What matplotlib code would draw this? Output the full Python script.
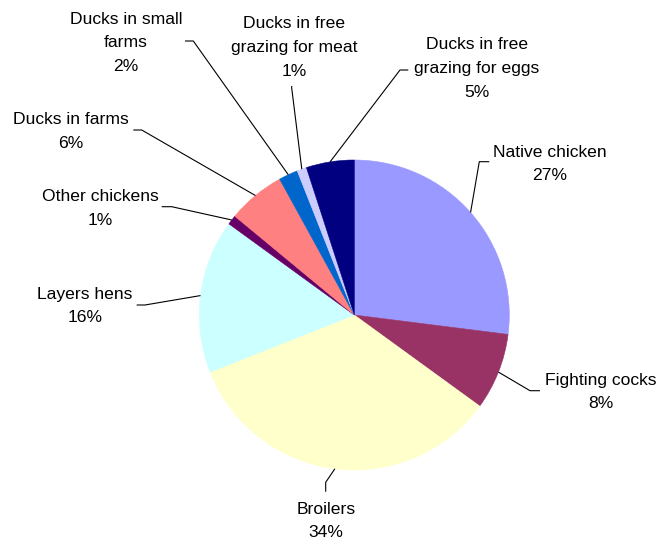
import numpy as np
import matplotlib
matplotlib.use("Agg")
import matplotlib.pyplot as plt

# Poultry population shares (%)
categories = [
    "Native chicken",
    "Fighting cocks",
    "Broilers",
    "Layers hens",
    "Other chickens",
    "Ducks in farms",
    "Ducks in small\nfarms",
    "Ducks in free\ngrazing for meat",
    "Ducks in free\ngrazing for eggs",
]
shares = [27, 8, 34, 16, 1, 6, 2, 1, 5]
colors = ["#9999FF", "#993366", "#FFFFCC", "#CCFFFF", "#660066",
          "#FF8080", "#0066CC", "#CCCCFF", "#000080"]

# Label layout in pixel coordinates (origin top-left):
# text block centre, leader elbow, leader end next to the text
label_centre = [(550, 164), (601, 392), (326, 521), (85, 306), (100.5, 208.3),
                (71, 131.5), (126, 42.7), (294, 47.5), (477, 68.5)]
leader_elbow = [(479.3, 161.7), (530, 390.7), (325.7, 482.3), (145, 305),
                (171.7, 206.7), (141.7, 130), (193.3, 41), (291.7, 88), (400, 70)]
leader_end = [(489.3, 161.7), (540, 390.7), (325.7, 491.7), (136.7, 305),
              (161.7, 206.7), (133.3, 130), (185, 41), (291.7, 86), (408.3, 70)]

W, H = 661, 545
CX, CY, R = 354.3, 315.0, 155.0
LINE_STEP = 23.6

plt.rcParams["font.family"] = ["Liberation Sans", "DejaVu Sans"]


def px(x, y):
    return x, H - y


fig = plt.figure(figsize=(W / 100, H / 100), dpi=100)
ax = fig.add_axes([0, 0, 1, 1])

wedges, _ = ax.pie(shares, colors=colors, startangle=90, counterclock=False,
                   center=px(CX, CY), radius=R,
                   wedgeprops=dict(linewidth=0.4))
for w, c in zip(wedges, colors):
    w.set_edgecolor(c)

ax.set_xlim(0, W)
ax.set_ylim(0, H)
ax.set_aspect("equal")
ax.axis("off")

total = sum(shares)
for i, w in enumerate(wedges):
    mid = np.deg2rad((w.theta1 + w.theta2) / 2)
    ax_x = CX + R * np.cos(mid)
    ax_y = CY - R * np.sin(mid)
    xs = [ax_x, leader_elbow[i][0], leader_end[i][0]]
    ys = [ax_y, leader_elbow[i][1], leader_end[i][1]]
    ax.plot(xs, [H - y for y in ys], color="black", lw=0.8,
            solid_capstyle="butt", zorder=3)

    lines = categories[i].split("\n") + [f"{100 * shares[i] / total:.0f}%"]
    n = len(lines)
    cx, cy = label_centre[i]
    for k, line in enumerate(lines):
        y = cy + (k - (n - 1) / 2) * LINE_STEP
        ax.text(*px(cx, y), line, ha="center", va="center",
                fontsize=12.6, color="black")

fig.savefig("out.png", dpi=100, facecolor="white")
